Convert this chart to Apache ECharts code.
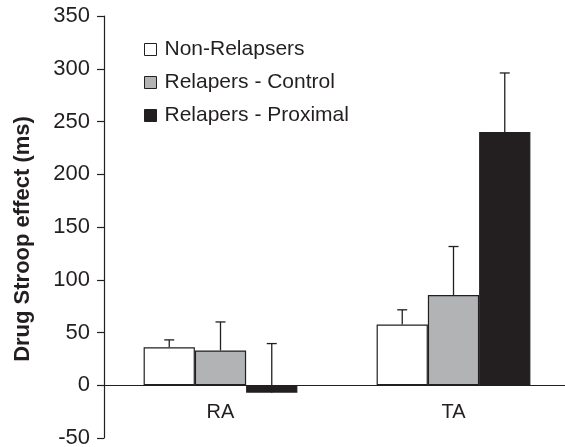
<!DOCTYPE html>
<html><head><meta charset="utf-8">
<script src="https://cdn.jsdelivr.net/npm/echarts@6/dist/echarts.min.js"></script>
<style>html,body{margin:0;padding:0;background:#fff}#c{width:565px;height:447px}</style>
</head><body><div id="c"></div>
<script>
var categories = ['RA', 'TA'];
var seriesNames = ['Non-Relapsers', 'Relapers - Control', 'Relapers - Proximal'];
var nonRelapsers = [36, 57.5];
var relapersControl = [33, 85.5];
var relapersProximal = [-7, 240];
var errNonRelapsers = [7, 14];
var errRelapersControl = [27, 46];
var errRelapersProximal = [46.5, 56];
var yTicks = [-50, 0, 50, 100, 150, 200, 250, 300, 350];

var ink = '#231f20';
var fills = ['#ffffff', '#b2b3b5', '#231f20'];
var values = [nonRelapsers, relapersControl, relapersProximal];
var errs = [errNonRelapsers, errRelapersControl, errRelapersProximal];
var font = 'Liberation Sans, Arial, sans-serif';
var gapPct = 0.34;

var W = 565, H = 447;
var gridTop = 16, gridBottom = 9;
var yMin = yTicks[0], yMax = yTicks[yTicks.length - 1];
var gridH = H - gridTop - gridBottom;
var zeroOffset = -((0 - yMin) / (yMax - yMin)) * gridH;

var series = [];
seriesNames.forEach(function (n, i) {
  series.push({
    name: n, type: 'bar', data: values[i],
    barGap: '0%', barCategoryGap: (gapPct * 100) + '%',
    itemStyle: { color: fills[i], borderColor: ink, borderWidth: 1.2 },
    silent: true
  });
});
var errData = [];
for (var s = 0; s < 3; s++) for (var c = 0; c < categories.length; c++) errData.push([c, values[s][c], errs[s][c], s]);
series.push({
  type: 'custom', silent: true, z: 1,
  renderItem: function (params, api) {
    var ci = api.value(0), v = api.value(1), e = api.value(2), si = api.value(3);
    var band = api.size([1, 0])[0];
    var bw = band * (1 - gapPct) / 3;
    var base = api.coord([ci, v]);
    var top = api.coord([ci, v + e]);
    var x = base[0] + (si - 1) * bw;
    var capW = 5;
    return { type: 'group', children: [
      { type: 'line', shape: { x1: x, y1: base[1], x2: x, y2: top[1] }, style: { stroke: ink, lineWidth: 1.3 } },
      { type: 'line', shape: { x1: x - capW, y1: top[1], x2: x + capW, y2: top[1] }, style: { stroke: ink, lineWidth: 1.3 } }
    ]};
  },
  encode: { x: 0, y: 1 },
  data: errData
});

var chart = echarts.init(document.getElementById('c'), null, { renderer: 'canvas' });
chart.setOption({
  animation: false,
  backgroundColor: '#fff',
  grid: { left: 104, right: -5, top: gridTop, bottom: gridBottom, containLabel: false, outerBoundsMode: 'none' },
  legend: {
    orient: 'vertical', left: 139, top: 34, itemGap: 12, itemWidth: 12, itemHeight: 12,
    icon: 'rect', selectedMode: false,
    textStyle: { fontFamily: font, fontSize: 21, color: ink, padding: [0, 0, 0, 3] },
    data: seriesNames.map(function (n, i) { return { name: n, itemStyle: { color: fills[i], borderColor: ink, borderWidth: 1 } }; })
  },
  xAxis: {
    type: 'category', data: categories, position: 'bottom', offset: zeroOffset,
    axisLine: { onZero: false, lineStyle: { color: ink, width: 1.2 } },
    axisTick: { show: false },
    axisLabel: { fontFamily: font, fontSize: 20, color: ink, margin: 17 },
    splitLine: { show: false }
  },
  yAxis: {
    type: 'value', min: yMin, max: yMax, interval: 50,
    name: 'Drug Stroop effect (ms)', nameLocation: 'middle', nameGap: 70,
    nameTextStyle: { fontFamily: font, fontSize: 22, fontWeight: 'bold', color: ink, padding: [0, 24, 0, 0] },
    axisLine: { show: true, lineStyle: { color: ink, width: 1.2 } },
    axisTick: { show: true, length: 7, lineStyle: { color: ink, width: 1.2 } },
    axisLabel: { fontFamily: font, fontSize: 22, color: ink, margin: 14 },
    splitLine: { show: false }
  },
  series: series
});
</script></body></html>
